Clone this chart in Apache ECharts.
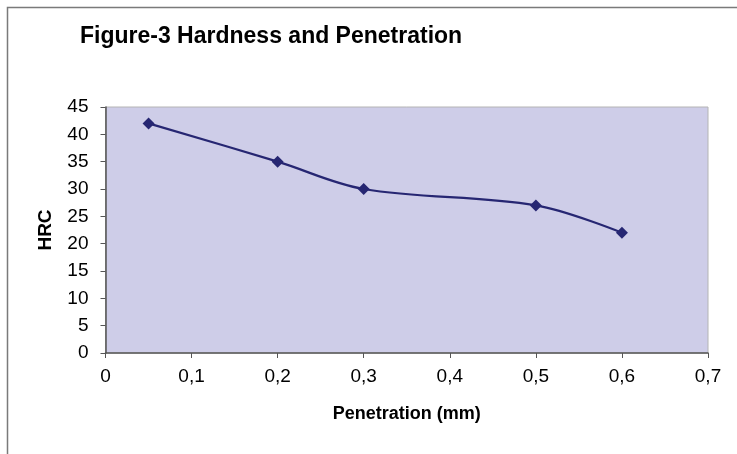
<!DOCTYPE html>
<html>
<head>
<meta charset="utf-8">
<script src="https://cdn.jsdelivr.net/npm/echarts@6/dist/echarts.min.js"></script>
<style>
html,body{margin:0;padding:0;background:#fff;}
#chart{width:737px;height:454px;}
</style>
</head>
<body>
<div id="chart"></div>
<script>
const penetration = [0.05, 0.2, 0.3, 0.5, 0.6];
const hardness = [42, 35, 30, 27, 22];
const titleText = 'Figure-3 Hardness and Penetration';
const xAxisName = 'Penetration (mm)';
const yAxisName = 'HRC';

const chart = echarts.init(document.getElementById('chart'), null, {renderer: 'canvas'});
const data = penetration.map((x, i) => [x, hardness[i]]);
const fmt = v => (v === 0 ? '0' : v.toFixed(1).replace('.', ','));

chart.setOption({
  animation: false,
  backgroundColor: '#ffffff',
  textStyle: {fontFamily: 'Liberation Sans, Arial, sans-serif'},
  title: {
    text: titleText,
    left: 75,
    top: 20,
    textStyle: {fontFamily: 'Liberation Sans, Arial, sans-serif', fontSize: 23, fontWeight: 'bold', color: '#000'}
  },
  graphic: [{
    type: 'polyline',
    silent: true,
    shape: {points: [[7.5, 460], [7.5, 7.5], [745, 7.5]]},
    style: {stroke: '#7a7a7a', lineWidth: 1.5, fill: null}
  }],
  grid: {
    left: 105.5, top: 107, right: 29, bottom: 101,
    show: true,
    backgroundColor: '#CECDE8',
    borderColor: '#B4B4B4',
    borderWidth: 1
  },
  xAxis: {
    type: 'value',
    min: 0, max: 0.7, interval: 0.1,
    name: xAxisName,
    nameLocation: 'middle',
    nameGap: 52,
    nameTextStyle: {fontSize: 18, fontWeight: 'bold', color: '#000'},
    axisLine: {show: true, lineStyle: {color: '#555', width: 1.5}},
    axisTick: {show: true, inside: false, length: 5, lineStyle: {color: '#555'}},
    axisLabel: {fontSize: 19, color: '#000', margin: 14, formatter: fmt},
    splitLine: {show: false}
  },
  yAxis: {
    type: 'value',
    min: 0, max: 45, interval: 5,
    name: yAxisName,
    nameLocation: 'middle',
    nameRotate: 90,
    nameGap: 50,
    nameTextStyle: {fontSize: 19, fontWeight: 'bold', color: '#000'},
    axisLine: {show: true, lineStyle: {color: '#555', width: 1.5}},
    axisTick: {show: true, inside: false, length: 5, lineStyle: {color: '#555'}},
    axisLabel: {fontSize: 19, color: '#000', margin: 17},
    splitLine: {show: false}
  },
  series: [{
    type: 'line',
    data: data,
    smooth: 0.35,
    symbol: 'diamond',
    symbolSize: 12,
    lineStyle: {color: '#262672', width: 2.2},
    itemStyle: {color: '#262672'}
  }]
});
</script>
</body>
</html>
